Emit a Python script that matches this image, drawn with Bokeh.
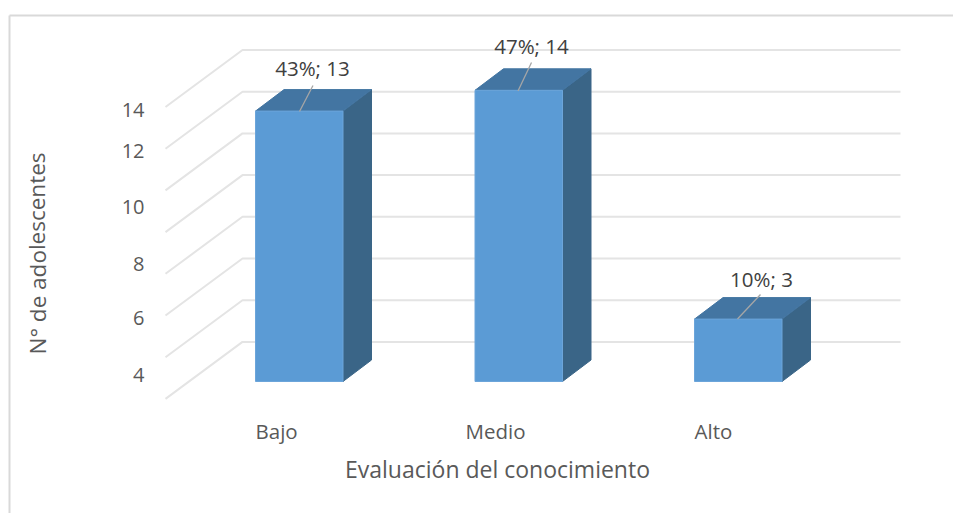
from bokeh.plotting import figure
from bokeh.models import Range1d
from bokeh.core.properties import value
from bokeh.embed import file_html
from bokeh.resources import INLINE

categories = ["Bajo", "Medio", "Alto"]
counts = [13, 14, 3]
bar_labels = ["43%; 13", "47%; 14", "10%; 3"]
tick_labels = ["14", "12", "10", "8", "6", "4"]
x_title = "Evaluación del conocimiento"
y_title = "N° de adolescentes"

# layout (page pixels)
W, H = 953, 513
BAR_L, BAR_W, STEP = 255.0, 87.5, 219.5
BASE_Y, PX_PER_UNIT = 381.0, 20.8
DX, DY = 28.5, 21.5
FONT = value("Open Sans")

# data scale: category index on x, value on y; page pixels map to it through these
def xd(px): return (px - BAR_L) / STEP
def yd(py): return (BASE_Y - py) / PX_PER_UNIT

p = figure(width=W, height=H, output_backend="svg", toolbar_location=None,
           x_range=Range1d(xd(0), xd(W)), y_range=Range1d(yd(H), yd(0)),
           min_border=0, outline_line_color=None, background_fill_color="white")
p.xaxis.visible = False
p.yaxis.visible = False
p.xgrid.visible = False
p.ygrid.visible = False

BW = BAR_W / STEP
ddx = DX / STEP
ddy = DY / PX_PER_UNIT

# chart frame
p.line([xd(9), xd(9)], [yd(513), yd(15)], line_color="#D9D9D9", line_width=2)
p.line([xd(9), xd(953)], [yd(15), yd(15)], line_color="#D9D9D9", line_width=2)

# wall + floor grid
GRID_BACK = [49.5, 91.2, 132.9, 174.6, 216.3, 258.0, 299.7, 341.4]
for gy in GRID_BACK:
    p.line([xd(165), xd(242), xd(900)], [yd(gy + 57), yd(gy), yd(gy)],
           line_color="#E4E4E4", line_width=2)

# bars
for i, v in enumerate(counts):
    l = float(i)
    r = l + BW
    p.patch([r, r + ddx, r + ddx, r], [v, v + ddy, ddy, 0], fill_color="#3A6587", line_color="#3A6587", line_width=1)
    p.patch([l, l + ddx, r + ddx, r], [v, v + ddy, v + ddy, v], fill_color="#4375A2", line_color="#4375A2", line_width=1)
    p.vbar(x=[(l + r) / 2], width=BW, top=[v], bottom=[0], fill_color="#5B9BD5", line_color="#6CA5DA", line_width=1)

# leader lines and data labels
LEAD = [(299, 111, 312.5, 85), (517.5, 90.5, 531, 62), (737, 318.5, 760, 294)]
LAB = [(312, 67.5), (531, 45), (761, 278)]
for (x0, y0, x1, y1), (lx, ly), t in zip(LEAD, LAB, bar_labels):
    p.line([xd(x0), xd(x1)], [yd(y0), yd(y1)], line_color="#A6A6A6", line_width=1.3)
    p.text([xd(lx)], [yd(ly)], text=[t], text_font=FONT, text_font_size="20.5px",
           text_color="#404040", text_align="center", text_baseline="middle")

# value-axis labels
TICK_Y = [109, 150, 206, 263, 317, 374]
p.text([xd(144)] * 6, [yd(y) for y in TICK_Y], text=tick_labels, text_font=FONT, text_font_size="20px",
       text_color="#595959", text_align="right", text_baseline="middle")

# category labels
CAT_X = [255, 465, 694]
p.text([xd(x) for x in CAT_X], [yd(430)] * 3, text=categories, text_font=FONT, text_font_size="20.5px",
       text_color="#595959", text_align="left", text_baseline="middle")

# axis titles
p.text([xd(497)], [yd(468.5)], text=[x_title], text_font=FONT, text_font_size="23px",
       text_color="#595959", text_align="center", text_baseline="middle")
p.text([xd(36.5)], [yd(253)], text=[y_title], text_font=FONT, text_font_size="22.5px", angle=1.5708,
       text_color="#595959", text_align="center", text_baseline="middle")

open("out.html", "w").write(file_html(p, INLINE))
